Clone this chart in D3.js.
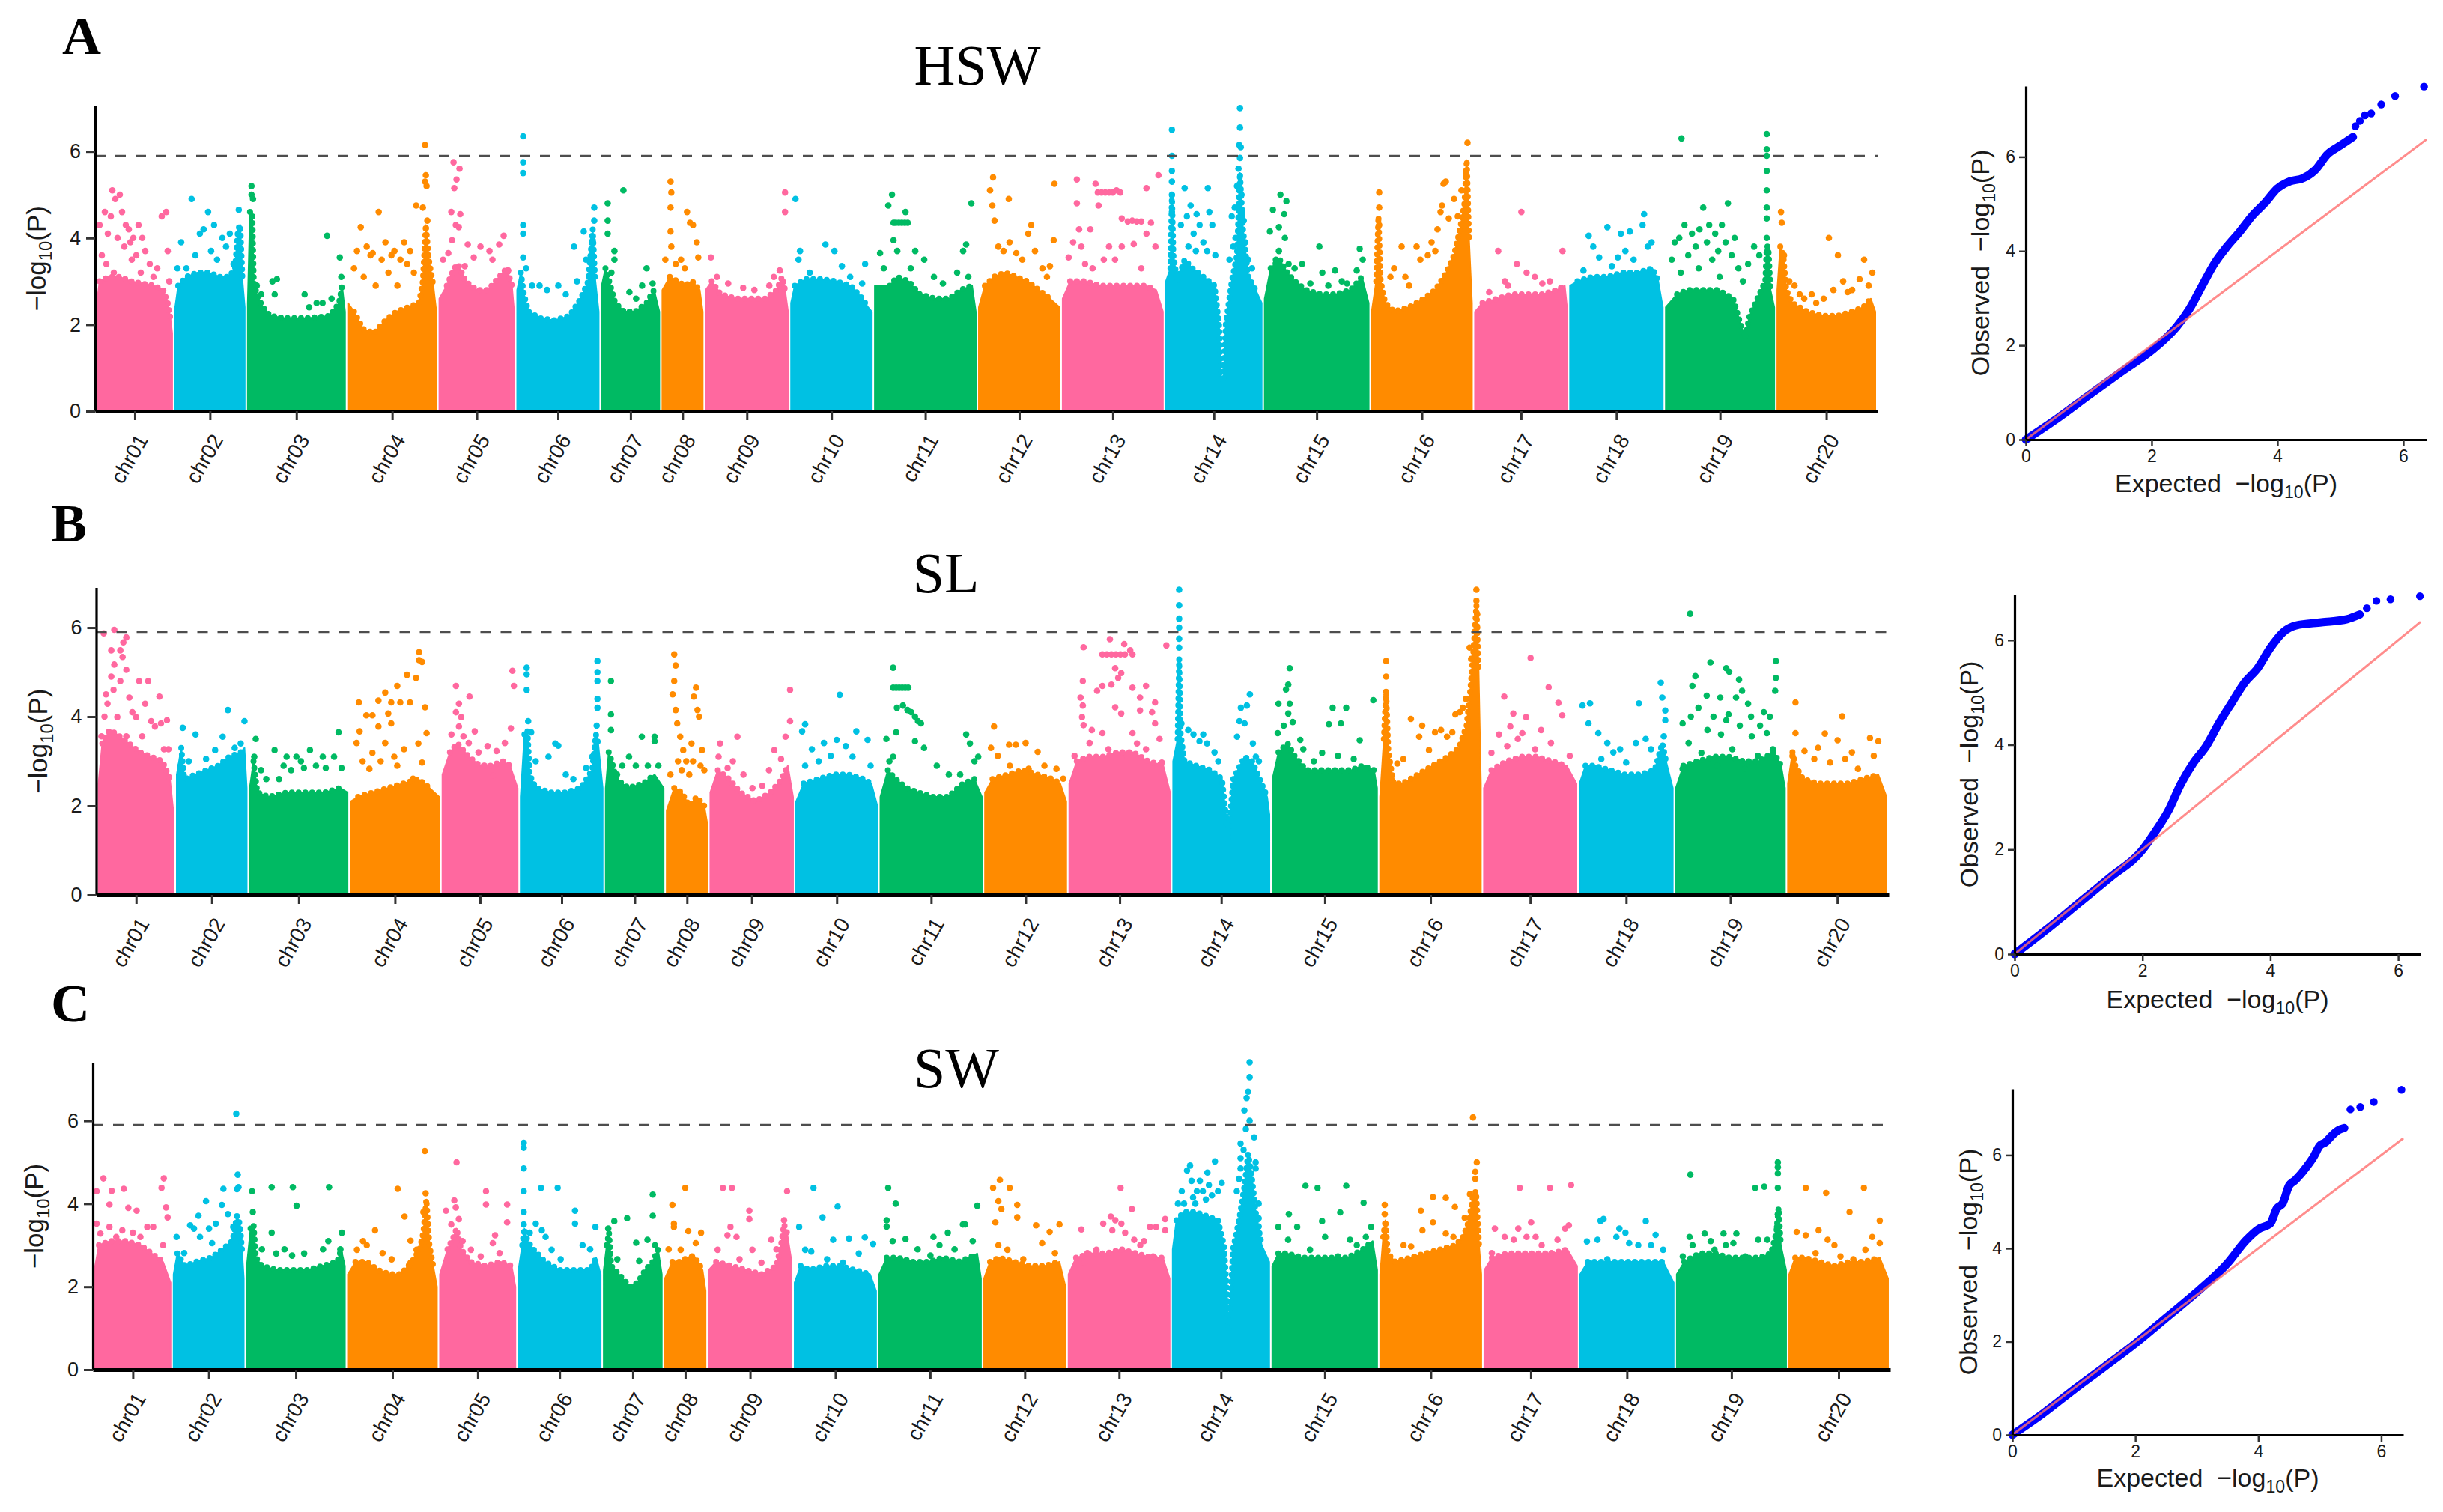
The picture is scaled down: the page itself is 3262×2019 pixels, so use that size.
<!DOCTYPE html>
<html>
<head>
<meta charset="utf-8">
<script src="https://cdn.jsdelivr.net/npm/d3@7"></script>
<style>
  body { margin: 0; background: #fff; }
</style>
</head>
<body>
<script>
// chromosomes (length in Mb) and the genome-wide line
const chroms = ["chr01","chr02","chr03","chr04","chr05","chr06","chr07","chr08","chr09","chr10",
                "chr11","chr12","chr13","chr14","chr15","chr16","chr17","chr18","chr19","chr20"];
const chromLen = [100,93,130,118,100,109,77,54,110,108,135,108,134,128,139,134,123,124,145,131];
const chromGap = 4;
const threshold = 5.9;
const yTicks = [0, 2, 4, 6];

// HSW: dense band of each chromosome [pos, -log10P] and the separate points above it
const hswBody = [
  [[0,2.6],[3,3.0],[15,3.1],[30,3.1],[45,3.0],[60,2.95],[75,2.9],[88,2.8],[94,2.5],[98,2.1],[100,1.8]],
  [[0,2.4],[4,2.9],[15,3.1],[30,3.2],[45,3.2],[60,3.1],[72,3.1],[80,3.3],[84,4.2],[87,4.3],[90,3.0],[93,2.4]],
  [[0,2.5],[3,4.6],[6,4.6],[8,3.0],[12,2.7],[20,2.4],[30,2.2],[50,2.15],[80,2.15],[110,2.2],[122,2.5],[126,2.9],[130,2.3]],
  [[0,2.5],[8,2.3],[20,1.9],[35,1.8],[50,2.1],[65,2.3],[80,2.4],[95,2.5],[100,3.0],[104,4.3],[108,3.5],[114,2.9],[118,2.3]],
  [[0,2.6],[10,2.9],[20,3.3],[25,3.4],[35,3.0],[50,2.8],[65,2.8],[80,3.1],[90,3.3],[97,2.9],[100,2.3]],
  [[0,2.8],[5,3.2],[9,2.7],[15,2.3],[30,2.15],[50,2.1],[70,2.2],[85,2.6],[95,3.0],[101,4.2],[104,3.1],[109,2.3]],
  [[0,2.9],[5,3.3],[10,3.0],[18,2.5],[30,2.3],[45,2.3],[60,2.5],[70,2.8],[77,2.3]],
  [[0,2.8],[10,3.1],[20,3.0],[30,2.9],[40,3.0],[50,2.8],[54,2.3]],
  [[0,2.8],[8,3.0],[20,2.7],[40,2.6],[60,2.6],[80,2.6],[95,2.8],[102,3.1],[106,2.8],[110,2.3]],
  [[0,2.5],[5,2.9],[20,3.05],[40,3.05],[60,3.0],[80,2.9],[95,2.6],[103,2.4],[108,2.3]],
  [[0,2.9],[20,2.9],[30,3.1],[45,3.0],[60,2.7],[80,2.6],[100,2.6],[115,2.8],[130,2.9],[135,2.3]],
  [[0,2.4],[8,2.9],[20,3.1],[35,3.2],[50,3.1],[65,3.0],[80,2.8],[95,2.6],[108,2.4]],
  [[0,2.6],[10,3.0],[30,3.0],[50,2.9],[70,2.9],[90,2.9],[110,2.9],[125,2.8],[134,2.3]],
  [[0,3.0],[6,3.3],[8,5.0],[10,3.6],[15,3.0],[25,3.5],[35,3.3],[50,3.1],[65,2.9],[71,2.0],[74,0.7],[77,0.7],[80,2.0],[88,3.0],[95,3.6],[99,5.5],[103,4.2],[110,3.1],[120,2.8],[128,2.5]],
  [[0,2.6],[8,3.3],[20,3.5],[30,3.2],[40,3.0],[55,2.8],[75,2.7],[95,2.7],[115,2.8],[130,3.1],[139,2.5]],
  [[0,2.3],[6,3.0],[9,4.5],[12,3.0],[18,2.5],[30,2.3],[50,2.4],[70,2.6],[85,2.8],[100,3.2],[110,3.6],[118,4.2],[124,4.8],[127,5.8],[130,4.0],[134,2.5]],
  [[0,2.3],[10,2.5],[30,2.6],[50,2.7],[70,2.7],[90,2.7],[110,2.8],[120,2.9],[123,2.4]],
  [[0,2.9],[10,3.0],[30,3.1],[50,3.1],[70,3.2],[90,3.2],[110,3.3],[118,3.0],[124,2.4]],
  [[0,2.4],[15,2.7],[30,2.8],[50,2.8],[70,2.8],[90,2.6],[100,2.0],[106,1.7],[112,2.2],[125,2.7],[133,3.0],[135,3.8],[137,3.8],[140,2.8],[145,2.4]],
  [[0,2.8],[4,3.8],[8,3.6],[12,2.8],[20,2.5],[40,2.3],[60,2.2],[80,2.2],[100,2.3],[115,2.4],[125,2.6],[131,2.3]]
];
const hswDots = [
  [[3,4.3],[6,3.6],[10,4.6],[14,4.1],[18,4.5],[20,5.1],[24,4.9],[27,4.0],[30,5.0],[33,4.6],[36,3.8],[38,4.3],[42,4.2],[44,3.9],[48,4.0],[52,3.6],[55,4.3],[60,4.0],[64,3.7],[70,3.4],[75,3.1],[80,3.3],[86,4.5],[92,4.6],[94,3.7],[96,3.0],[12,3.4],[22,3.2],[46,3.5],[58,3.2]],
  [[3,3.3],[8,3.9],[15,3.3],[22,4.9],[27,3.6],[33,4.1],[38,4.2],[44,4.6],[48,3.7],[52,4.3],[56,3.5],[63,4.0],[68,3.8],[73,4.1],[85,4.65],[78,3.4]],
  [[5,5.2],[5,5.0],[7,4.9],[12,2.9],[18,2.7],[33,3.0],[39,3.05],[36,2.7],[76,2.7],[82,2.4],[92,2.5],[100,2.5],[106,4.05],[112,2.6],[123,3.55],[125,3.1]],
  [[8,3.3],[12,3.7],[17,4.25],[21,3.1],[25,3.8],[30,3.6],[33,3.65],[37,2.9],[41,4.6],[45,3.5],[50,3.9],[54,3.2],[58,3.6],[62,3.7],[66,2.9],[70,3.5],[75,3.9],[79,3.4],[83,3.7],[88,3.2],[91,4.75],[100,4.7],[103,5.3],[104,5.45],[103,6.15],[106,4.4],[105,5.2]],
  [[19,5.75],[27,5.6],[23,5.35],[20,5.15],[16,4.6],[28,4.55],[22,4.3],[26,4.25],[17,3.95],[38,3.85],[55,3.8],[67,3.7],[80,3.85],[86,4.05],[12,3.65],[46,3.55],[71,3.5],[92,3.25],[34,3.35],[5,3.5]],
  [[8,6.35],[8,5.75],[8,5.5],[8,4.3],[8,4.1],[8,3.55],[12,3.3],[20,2.9],[30,2.9],[40,2.8],[55,2.9],[65,2.7],[76,3.8],[80,3.0],[89,4.15],[92,3.5],[101,3.95],[103,4.7],[103,4.4],[99,3.6]],
  [[8,4.4],[8,4.8],[8,4.1],[29,5.1],[17,3.7],[17,3.5],[37,2.75],[46,2.6],[54,2.9],[60,3.3],[68,2.95],[13,3.2]],
  [[4,3.5],[11,5.3],[12,5.05],[11,4.7],[11,4.15],[12,3.8],[18,3.4],[25,3.5],[33,4.6],[37,4.35],[41,4.3],[46,3.9],[48,3.55],[30,3.3]],
  [[7,3.55],[15,3.1],[30,2.95],[50,2.85],[65,2.8],[85,2.9],[91,3.1],[99,3.25],[106,5.05],[106,4.6]],
  [[6,4.9],[12,3.7],[10,3.5],[46,3.85],[58,3.7],[68,3.35],[79,3.1],[99,3.4],[95,2.95],[25,3.2]],
  [[7,3.65],[12,3.3],[18,4.75],[23,5.0],[25,4.35],[28,4.35],[32,4.35],[36,4.35],[40,4.35],[44,4.35],[41,4.6],[25,3.95],[30,3.7],[48,3.3],[54,3.7],[66,3.5],[79,3.1],[91,2.95],[110,3.2],[118,3.7],[122,3.85],[129,4.8],[125,3.1]],
  [[15,5.1],[19,5.4],[18,4.75],[21,4.4],[40,4.9],[26,3.8],[33,3.7],[41,3.9],[50,3.65],[58,3.5],[66,4.1],[70,4.3],[75,3.7],[85,3.3],[91,3.1],[95,3.35],[100,3.95],[101,5.25]],
  [[8,3.55],[14,3.9],[19,4.8],[19,5.35],[22,4.2],[25,3.8],[30,3.4],[37,4.2],[44,5.25],[47,5.05],[52,5.05],[57,5.05],[62,5.05],[67,5.05],[72,5.1],[77,5.05],[48,4.75],[55,3.5],[62,3.8],[70,3.5],[79,3.8],[79,4.45],[87,4.38],[93,4.4],[99,4.38],[105,4.38],[112,5.15],[112,4.1],[118,4.35],[95,3.86],[124,3.8],[128,5.45],[40,3.3],[105,3.3]],
  [[8,6.5],[8,5.9],[8,5.55],[8,5.3],[8,5.0],[8,4.6],[25,5.15],[20,4.3],[28,4.5],[33,4.75],[37,4.1],[41,4.55],[45,4.3],[50,3.9],[56,5.15],[58,4.6],[62,4.3],[66,3.6],[30,3.8],[40,3.7],[55,3.7],[85,3.5],[88,4.5],[92,4.7],[95,5.2],[97,5.6],[99,7.0],[99,6.55],[98,6.15],[100,6.1],[99,5.85],[101,5.0],[102,4.6],[104,4.4],[106,3.9],[110,3.5],[115,3.3],[93,4.0],[90,3.8]],
  [[7,4.15],[11,4.65],[15,3.5],[19,4.25],[19,3.7],[21,5.0],[26,4.55],[27,4.0],[29,4.85],[32,3.4],[40,3.3],[50,3.4],[61,2.95],[73,3.8],[77,3.2],[85,2.9],[94,3.25],[103,3.0],[110,2.95],[123,3.25],[127,3.75],[131,3.5]],
  [[10,5.05],[10,4.7],[10,4.3],[25,3.1],[30,3.3],[40,3.8],[45,3.1],[50,2.9],[60,3.8],[65,3.5],[75,3.6],[80,3.9],[85,3.7],[88,4.2],[92,4.6],[96,5.25],[99,5.3],[94,4.75],[103,4.45],[110,4.9],[115,4.5],[120,5.1],[128,6.2],[126,5.5]],
  [[19,2.75],[31,3.7],[40,3.0],[44,2.9],[56,3.4],[62,4.6],[69,3.2],[80,3.1],[90,2.95],[100,3.0],[117,3.7]],
  [[18,3.25],[25,4.05],[31,3.8],[39,3.55],[50,4.25],[56,3.35],[64,3.55],[68,4.1],[74,3.7],[80,4.15],[85,3.5],[97,4.3],[99,4.55],[104,3.8],[109,3.9]],
  [[21,6.3],[8,3.5],[12,3.9],[18,4.0],[25,4.3],[30,3.6],[35,4.1],[40,3.8],[45,4.2],[50,4.7],[55,3.9],[58,4.3],[62,3.5],[66,4.1],[70,3.7],[75,4.3],[80,3.9],[83,4.8],[88,3.6],[92,4.0],[97,3.3],[103,3.0],[110,3.4],[118,3.8],[125,3.6],[20,3.2],[44,3.3],[72,3.1],[135,6.4],[135,6.05],[135,5.9],[135,5.55],[135,5.1],[135,4.7],[135,4.45],[135,4.0],[136,3.7]],
  [[5,4.6],[6,4.35],[9,3.6],[16,3.0],[23,2.9],[30,2.7],[36,2.6],[46,2.7],[52,2.5],[62,2.6],[69,4.0],[75,2.8],[81,3.6],[88,3.0],[94,2.75],[100,2.8],[110,3.05],[116,3.5],[122,2.9],[127,3.2]]
];

// SL
const slBody = [
  [[0,2.5],[5,3.4],[15,3.7],[25,3.6],[40,3.4],[55,3.2],[70,3.1],[85,3.0],[95,2.6],[100,1.8]],
  [[0,2.7],[6,3.3],[10,2.6],[25,2.7],[40,2.8],[55,2.9],[70,3.1],[85,3.2],[90,3.3],[93,2.4]],
  [[0,2.4],[5,3.0],[10,2.3],[25,2.2],[50,2.3],[75,2.3],[100,2.3],[120,2.4],[130,2.3]],
  [[0,2.1],[10,2.2],[30,2.3],[50,2.4],[70,2.5],[90,2.6],[105,2.4],[118,2.2]],
  [[0,2.7],[10,3.2],[20,3.4],[35,3.1],[50,2.9],[65,2.9],[80,3.0],[90,2.9],[100,2.4]],
  [[0,2.2],[5,3.6],[9,3.7],[12,2.7],[20,2.4],[40,2.3],[60,2.3],[80,2.4],[95,2.8],[100,3.6],[103,3.4],[109,2.4]],
  [[0,2.4],[4,3.2],[8,3.0],[14,2.6],[30,2.4],[50,2.5],[65,2.7],[77,2.4]],
  [[0,1.9],[10,2.4],[20,2.3],[30,2.0],[40,2.2],[50,2.0],[54,1.6]],
  [[0,2.3],[10,2.8],[25,2.6],[40,2.3],[60,2.1],[80,2.3],[95,2.6],[103,2.9],[110,2.2]],
  [[0,2.1],[10,2.5],[30,2.6],[50,2.7],[70,2.7],[90,2.6],[100,2.5],[108,2.0]],
  [[0,2.2],[10,2.8],[20,2.6],[35,2.4],[50,2.3],[70,2.2],[90,2.2],[110,2.5],[125,2.6],[135,2.2]],
  [[0,2.3],[10,2.6],[30,2.7],[50,2.8],[70,2.7],[90,2.6],[100,2.5],[108,2.1]],
  [[0,2.5],[10,3.0],[25,3.1],[45,3.1],[65,3.2],[85,3.2],[105,3.0],[125,2.9],[134,2.3]],
  [[0,3.0],[6,3.5],[8,5.3],[10,3.6],[15,3.0],[30,2.9],[50,2.8],[65,2.6],[70,1.8],[73,1.2],[76,1.8],[80,2.6],[95,3.1],[105,3.0],[115,2.6],[125,2.2],[128,1.8]],
  [[0,2.6],[8,3.2],[20,3.4],[30,3.1],[45,2.8],[65,2.8],[85,2.8],[105,2.8],[120,2.9],[135,2.8],[139,2.4]],
  [[0,2.2],[5,3.5],[8,4.6],[11,3.2],[18,2.5],[30,2.5],[50,2.7],[70,2.9],[90,3.1],[105,3.3],[115,3.8],[120,4.6],[125,5.7],[128,6.5],[131,5.0],[134,2.5]],
  [[0,2.4],[10,2.8],[30,3.0],[50,3.1],[70,3.1],[90,3.0],[110,2.9],[123,2.5]],
  [[0,2.5],[8,2.9],[20,2.9],[40,2.8],[60,2.7],[80,2.7],[100,2.8],[110,3.4],[115,3.0],[124,2.4]],
  [[0,2.4],[10,2.9],[30,3.0],[50,3.1],[70,3.1],[90,3.0],[110,3.0],[130,3.2],[140,2.9],[145,2.4]],
  [[0,2.5],[6,3.2],[10,2.9],[20,2.6],[40,2.5],[60,2.5],[80,2.5],[100,2.6],[120,2.7],[131,2.2]]
];
const slDots = [
  [[21,5.95],[7,5.87],[37,5.78],[33,5.67],[17,5.49],[29,5.49],[32,5.34],[21,5.17],[17,4.9],[37,5.05],[29,4.8],[66,4.8],[54,4.8],[10,4.5],[41,4.43],[81,4.45],[62,4.29],[83,3.85],[91,3.92],[12,4.29],[25,3.99],[50,3.99],[75,3.78],[87,3.27],[93,3.27],[4,3.56],[37,3.56],[58,3.56],[45,4.1],[70,3.9],[20,4.6],[8,4.0]],
  [[8,3.75],[25,3.6],[39,3.05],[51,3.25],[61,3.55],[68,4.15],[77,3.3],[85,3.4],[90,3.9],[5,2.9],[16,3.0]],
  [[6,3.1],[8,3.5],[15,2.8],[22,2.6],[33,3.25],[39,2.6],[45,2.9],[49,3.1],[55,2.8],[62,3.1],[68,3.0],[72,2.85],[80,3.25],[88,2.9],[97,3.1],[101,2.85],[112,3.1],[118,3.65],[122,2.85]],
  [[91,5.45],[91,5.27],[95,5.23],[75,4.94],[87,4.87],[62,4.69],[46,4.54],[11,4.32],[37,4.36],[54,4.32],[66,4.32],[79,4.32],[99,4.21],[21,4.03],[29,4.03],[50,4.07],[12,3.67],[37,3.78],[54,3.85],[101,3.63],[8,3.41],[29,3.19],[46,3.41],[71,3.27],[95,2.97],[25,2.83],[62,2.9],[83,2.61],[16,3.0],[40,3.0],[58,3.1],[90,3.4]],
  [[18,4.69],[36,4.45],[22,4.29],[18,4.1],[25,3.99],[22,3.78],[43,3.67],[93,5.03],[95,4.69],[91,3.74],[28,3.56],[35,3.41],[60,3.34],[72,3.23],[83,3.41],[56,2.9],[68,2.68],[12,3.6],[48,3.2]],
  [[8,5.1],[8,4.95],[8,4.6],[10,3.9],[14,3.65],[20,3.0],[37,3.1],[46,3.4],[50,3.35],[60,2.7],[70,2.6],[87,2.85],[95,3.1],[101,3.8],[102,4.2],[102,4.4],[102,4.8],[102,5.0],[102,5.25]],
  [[7,4.8],[7,4.05],[7,3.7],[15,2.7],[22,2.9],[31,3.1],[40,2.9],[48,3.55],[56,2.9],[65,3.55],[65,3.45],[70,2.9]],
  [[8,4.5],[10,5.4],[12,5.15],[10,4.8],[12,4.15],[14,3.85],[18,3.55],[22,3.25],[26,3.0],[30,2.7],[33,3.4],[36,4.45],[39,4.65],[41,4.15],[43,4.0],[47,3.25],[50,2.8],[5,2.7],[15,3.0],[20,2.8],[35,3.0],[45,2.9]],
  [[11,3.1],[13,3.4],[23,2.85],[30,3.0],[36,3.55],[44,2.7],[56,2.4],[69,2.45],[78,2.8],[85,3.25],[94,3.05],[100,3.55],[106,3.9],[106,4.6]],
  [[12,3.83],[8,3.67],[58,4.49],[80,3.67],[54,3.48],[21,3.27],[37,3.41],[66,3.34],[95,3.48],[46,3.12],[99,2.9],[12,2.9],[30,3.0],[75,3.1]],
  [[8,3.5],[12,3.0],[17,5.1],[17,4.65],[21,4.65],[25,4.65],[29,4.65],[33,4.65],[37,4.65],[22,4.2],[30,4.25],[36,4.15],[41,4.1],[46,4.0],[50,3.9],[54,3.85],[21,3.65],[46,3.45],[58,3.3],[17,3.1],[75,2.9],[91,2.7],[106,2.7],[114,3.6],[119,3.4],[125,3.0],[130,3.1]],
  [[12,3.78],[8,3.3],[32,3.37],[41,3.37],[54,3.41],[70,3.21],[17,3.12],[33,2.9],[58,2.83],[79,2.9],[95,2.83],[104,2.61],[46,2.68]],
  [[54,5.74],[73,5.63],[19,5.56],[81,5.49],[44,5.4],[50,5.4],[56,5.4],[62,5.4],[68,5.4],[74,5.4],[84,5.4],[129,5.6],[61,5.09],[69,4.98],[65,4.87],[44,4.69],[56,4.72],[84,4.65],[102,4.69],[18,4.8],[37,4.58],[15,4.43],[18,4.25],[94,4.43],[114,4.32],[110,4.1],[61,4.21],[17,3.99],[69,4.07],[94,4.14],[19,3.81],[44,3.63],[84,3.63],[114,3.85],[7,3.12],[27,3.41],[52,3.27],[77,3.12],[102,3.27],[123,2.97],[30,3.7],[90,3.4],[120,3.5]],
  [[8,6.85],[8,6.5],[8,6.2],[8,6.0],[8,5.75],[8,5.55],[11,3.85],[20,3.7],[27,3.6],[35,3.45],[40,3.6],[45,3.4],[55,3.2],[60,3.0],[85,3.55],[88,3.9],[90,4.2],[95,3.85],[98,4.25],[102,4.5],[106,3.4],[110,3.1],[114,3.0]],
  [[23,5.09],[21,4.72],[18,4.61],[8,4.29],[23,4.29],[21,4.07],[7,3.63],[27,3.88],[37,3.48],[80,4.2],[98,4.2],[75,3.83],[91,3.85],[116,3.47],[134,4.37],[41,3.27],[66,3.19],[87,3.12],[108,3.05],[124,2.83],[15,3.8],[55,3.0]],
  [[8,5.25],[8,4.9],[15,2.6],[23,2.95],[31,3.05],[41,3.95],[52,3.55],[56,3.8],[65,3.25],[73,3.65],[81,3.7],[89,3.55],[96,3.65],[100,4.05],[106,4.1],[110,4.2],[114,4.4],[119,5.55],[121,5.3],[128,6.85],[128,6.6],[129,6.3],[129,6.0]],
  [[62,5.32],[86,4.66],[27,4.45],[39,4.07],[56,3.99],[99,4.31],[104,4.03],[35,3.78],[51,3.63],[76,3.7],[10,3.19],[31,3.34],[68,3.27],[89,3.41],[114,3.12],[45,3.5],[20,3.6]],
  [[4,4.25],[14,4.3],[79,4.3],[108,4.76],[110,4.43],[114,4.14],[114,3.92],[112,3.56],[12,3.85],[25,3.63],[37,3.41],[54,3.27],[75,3.41],[95,3.27],[62,2.97],[29,3.05],[45,3.2],[88,3.5]],
  [[19,6.31],[46,5.22],[67,5.09],[71,5.01],[26,4.91],[22,4.69],[84,4.83],[88,4.58],[133,5.25],[133,4.87],[132,4.58],[41,4.47],[59,4.43],[80,4.43],[96,4.29],[117,4.1],[20,4.0],[50,4.0],[70,4.05],[100,4.0],[125,4.0],[9,3.85],[42,3.7],[67,3.92],[101,3.56],[121,3.63],[17,3.41],[34,3.19],[75,3.27],[109,3.12],[129,3.27],[9,2.83],[55,2.9],[92,2.83],[30,4.2],[60,3.6],[85,3.8],[112,3.8]],
  [[10,4.32],[72,4.01],[10,3.63],[49,3.62],[66,3.47],[109,3.52],[120,3.45],[22,3.23],[35,3.05],[56,2.97],[76,3.05],[93,2.83],[114,3.12],[6,3.12],[85,3.2],[40,3.3]]
];

// SW
const swBody = [
  [[0,2.5],[5,3.0],[20,3.1],[40,3.1],[60,3.0],[75,2.8],[90,2.6],[100,2.1]],
  [[0,2.3],[5,2.8],[15,2.5],[30,2.6],[50,2.7],[65,2.9],[78,3.1],[84,3.7],[88,3.5],[91,2.8],[93,2.2]],
  [[0,2.5],[5,3.4],[9,3.5],[12,2.7],[20,2.5],[40,2.4],[60,2.4],[80,2.4],[100,2.5],[120,2.6],[125,2.9],[130,2.5]],
  [[0,2.3],[10,2.6],[25,2.6],[40,2.4],[55,2.3],[70,2.3],[85,2.6],[95,2.9],[100,3.3],[104,4.1],[108,3.0],[114,2.4],[118,2.0]],
  [[0,2.3],[10,2.9],[18,3.2],[22,3.4],[28,2.9],[40,2.6],[60,2.5],[80,2.6],[95,2.5],[100,2.0]],
  [[0,2.4],[5,3.0],[8,3.4],[12,3.1],[20,2.9],[35,2.6],[55,2.4],[75,2.4],[95,2.4],[103,2.7],[109,2.3]],
  [[0,2.4],[4,3.0],[7,3.3],[10,2.5],[20,2.3],[35,2.0],[45,2.1],[55,2.4],[65,2.6],[72,2.9],[77,2.3]],
  [[0,2.2],[10,2.6],[20,2.6],[30,2.7],[40,2.7],[50,2.4],[54,1.9]],
  [[0,2.4],[10,2.6],[30,2.5],[50,2.4],[70,2.3],[90,2.5],[96,3.0],[100,3.5],[104,3.3],[110,2.6]],
  [[0,2.1],[8,2.5],[20,2.4],[40,2.5],[60,2.5],[80,2.4],[100,2.3],[108,1.9]],
  [[0,2.3],[10,2.7],[25,2.7],[45,2.6],[65,2.6],[85,2.7],[105,2.6],[120,2.7],[130,2.8],[135,2.2]],
  [[0,2.2],[8,2.6],[20,2.7],[40,2.6],[60,2.5],[80,2.5],[100,2.6],[108,2.0]],
  [[0,2.3],[10,2.7],[30,2.8],[50,2.8],[70,2.9],[90,2.8],[110,2.7],[125,2.7],[134,2.2]],
  [[0,2.9],[5,3.6],[15,3.8],[30,3.8],[45,3.7],[60,3.6],[68,3.0],[72,1.8],[74,1.0],[77,1.8],[80,2.9],[88,3.6],[95,4.4],[100,5.2],[104,4.8],[110,3.8],[118,3.0],[128,2.6]],
  [[0,2.5],[8,2.8],[20,2.8],[40,2.7],[60,2.7],[80,2.7],[100,2.7],[120,2.9],[133,3.1],[139,2.4]],
  [[0,2.3],[4,3.2],[7,3.6],[10,2.8],[20,2.6],[40,2.7],[60,2.8],[80,2.9],[100,3.0],[110,3.2],[118,3.6],[123,4.2],[127,4.3],[131,3.0],[134,2.3]],
  [[0,2.4],[10,2.7],[30,2.8],[50,2.8],[70,2.8],[90,2.8],[110,2.9],[123,2.5]],
  [[0,2.3],[10,2.6],[30,2.6],[50,2.6],[70,2.6],[90,2.6],[110,2.6],[124,2.1]],
  [[0,2.3],[10,2.6],[30,2.8],[50,2.8],[70,2.7],[90,2.7],[110,2.7],[125,2.8],[132,3.3],[135,3.9],[138,3.0],[145,2.4]],
  [[0,2.3],[8,2.7],[20,2.7],[40,2.6],[60,2.5],[80,2.6],[100,2.6],[120,2.7],[131,2.2]]
];
const swDots = [
  [[11,4.61],[2,4.3],[22,4.31],[38,4.36],[19,3.98],[44,3.9],[55,3.83],[91,4.61],[88,4.38],[94,3.91],[96,3.67],[2,3.52],[19,3.44],[36,3.36],[69,3.44],[77,3.44],[7,3.28],[90,3.0],[28,3.2],[50,3.3],[60,3.2]],
  [[83,6.17],[85,4.7],[86,4.4],[84,4.35],[4,3.2],[22,3.48],[33,3.71],[43,4.06],[56,3.52],[64,3.97],[66,4.36],[72,3.75],[79,3.44],[51,3.05],[14,2.81],[35,3.2],[27,3.4],[47,3.4]],
  [[7,4.3],[8,3.8],[33,4.4],[33,3.3],[39,2.8],[60,2.75],[61,4.4],[66,3.95],[76,2.8],[101,2.9],[108,3.1],[109,4.4],[124,2.9],[126,3.3],[20,2.9],[50,2.9]],
  [[102,5.27],[66,4.36],[75,3.69],[83,3.11],[36,3.36],[12,2.89],[25,3.0],[46,2.81],[58,2.66],[83,2.58],[91,2.89],[100,3.8],[103,4.25],[20,3.1]],
  [[22,5.0],[19,4.08],[21,3.91],[25,3.63],[8,3.83],[61,4.3],[61,3.98],[89,3.98],[89,3.55],[73,3.24],[70,3.05],[41,2.89],[54,2.73],[79,2.81],[15,3.5],[30,3.1]],
  [[7,5.47],[7,5.35],[7,4.85],[7,4.3],[7,3.8],[7,3.5],[30,4.38],[52,4.38],[75,3.83],[75,3.52],[102,3.44],[85,3.0],[36,3.2],[23,3.52],[31,3.36],[44,2.89],[56,2.66],[95,2.9],[15,3.3]],
  [[14,3.58],[31,3.65],[65,4.22],[65,3.71],[43,3.06],[58,3.13],[68,3.0],[18,2.66],[47,2.62],[6,3.4]],
  [[27,4.38],[10,3.97],[12,3.52],[12,3.44],[31,3.34],[48,3.3],[41,3.05],[21,2.89],[36,2.73],[5,2.9]],
  [[19,4.38],[31,4.38],[54,3.83],[54,3.63],[104,4.3],[29,3.44],[25,3.24],[37,3.2],[58,2.89],[83,3.13],[12,2.89],[41,2.66],[70,2.58],[100,3.6],[90,2.9]],
  [[6,3.44],[25,4.38],[57,3.93],[37,3.67],[14,2.89],[22,2.85],[51,3.13],[72,3.16],[93,3.19],[104,3.03],[43,2.66],[64,2.58],[85,2.8]],
  [[10,3.45],[10,3.6],[12,4.38],[18,3.1],[22,4.0],[35,3.15],[51,2.9],[68,2.75],[72,3.2],[91,3.3],[111,3.5],[114,3.5],[124,3.1],[130,3.95],[100,2.9],[80,3.0]],
  [[21,4.57],[12,4.38],[34,4.38],[19,4.06],[23,3.87],[44,3.97],[15,3.55],[44,3.67],[69,3.48],[100,3.5],[87,3.32],[19,3.0],[31,2.89],[77,3.05],[94,2.81],[52,2.66]],
  [[69,4.38],[84,3.87],[56,3.69],[70,3.52],[46,3.52],[17,3.38],[108,3.44],[116,3.44],[128,3.63],[128,3.36],[58,3.36],[87,3.13],[95,3.0],[25,2.81],[37,2.89],[112,2.73],[21,2.58],[62,3.6],[75,3.3],[100,3.1]],
  [[7,4.0],[12,4.3],[19,4.8],[23,4.92],[25,4.55],[27,4.15],[32,4.3],[36,4.55],[40,4.3],[46,4.75],[48,4.45],[52,4.2],[56,5.02],[60,4.3],[65,4.5],[85,4.3],[88,4.6],[90,4.85],[90,5.1],[90,5.45],[94,5.3],[95,6.25],[98,6.55],[102,6.0],[102,7.05],[102,7.41],[104,4.4],[108,5.6],[110,5.0],[110,4.85],[114,4.0],[114,3.65],[114,3.45],[100,6.7],[97,5.8],[15,4.0],[44,4.1],[30,4.0]],
  [[44,4.43],[60,4.38],[98,4.43],[22,3.75],[8,3.44],[33,3.44],[66,3.58],[90,3.79],[121,4.02],[131,3.44],[21,3.13],[50,2.89],[70,3.2],[87,2.73],[103,3.13],[124,3.2],[112,3.0]],
  [[123,6.08],[128,5.0],[126,4.77],[119,4.23],[70,4.16],[87,4.14],[99,3.92],[112,3.66],[54,3.83],[70,3.55],[87,3.28],[41,2.97],[31,3.0],[56,3.36],[97,3.2],[21,2.58],[6,3.97],[6,3.75],[126,4.6]],
  [[47,4.38],[87,4.38],[115,4.45],[62,3.55],[112,3.48],[107,3.4],[14,3.4],[27,3.2],[39,3.13],[56,3.2],[68,3.2],[76,3.0],[97,3.13],[10,2.81],[89,2.81],[45,3.4]],
  [[31,3.63],[27,3.59],[87,3.58],[52,3.4],[9,3.09],[23,3.13],[48,3.2],[65,3.05],[77,3.0],[94,3.0],[110,2.89],[36,2.66],[11,2.58],[60,3.3],[100,3.25]],
  [[18,4.7],[104,4.38],[116,4.41],[134,5.0],[134,4.88],[134,4.73],[134,4.38],[134,3.75],[133,3.44],[17,3.2],[37,3.28],[62,3.28],[79,3.28],[21,3.0],[50,2.89],[75,3.05],[108,3.13],[120,3.13],[8,2.73],[91,2.73],[45,3.1],[65,3.0]],
  [[22,4.38],[49,4.26],[99,4.38],[80,3.8],[120,3.59],[10,3.32],[22,3.24],[39,3.36],[51,3.13],[120,3.05],[101,2.89],[68,2.73],[85,2.66],[35,2.81],[60,3.0],[110,3.2]]
];

// QQ plots: [expected, observed] along the dense curve, then the separate top points
const hswQQ = [[0,0],[0.5,0.45],[1,0.94],[1.5,1.42],[2,1.89],[2.2,2.12],[2.4,2.4],[2.6,2.77],[2.8,3.26],[3.0,3.74],[3.2,4.1],[3.4,4.41],[3.6,4.75],[3.8,5.02],[4.0,5.33],[4.2,5.48],[4.4,5.54],[4.6,5.72],[4.8,6.06],[5.0,6.24],[5.2,6.42]];
const hswQQTail = [[5.24,6.65],[5.31,6.76],[5.39,6.88],[5.49,6.92],[5.65,7.11],[5.87,7.29],[6.33,7.49]];
const slQQ = [[0,0],[0.5,0.47],[1,0.97],[1.5,1.47],[2,1.99],[2.2,2.34],[2.4,2.73],[2.6,3.25],[2.8,3.66],[3.0,3.98],[3.2,4.42],[3.4,4.81],[3.6,5.19],[3.8,5.46],[4.0,5.85],[4.2,6.15],[4.4,6.28],[4.8,6.34],[5.2,6.4],[5.4,6.49]];
const slQQTail = [[5.51,6.61],[5.66,6.75],[5.88,6.78],[6.34,6.84]];
const swQQ = [[0,0],[0.5,0.46],[1,0.97],[1.5,1.46],[2,1.96],[2.5,2.51],[3,3.06],[3.5,3.68],[3.8,4.17],[4.0,4.41],[4.2,4.54],[4.3,4.85],[4.4,4.97],[4.5,5.34],[4.6,5.46],[4.8,5.77],[4.9,5.96],[5.0,6.2],[5.1,6.28],[5.2,6.42],[5.3,6.53],[5.4,6.58]];
const swQQTail = [[5.5,6.98],[5.66,7.03],[5.88,7.14],[6.33,7.4]];

const palette = ["#FF689F", "#00C1E3", "#00BA63", "#FF8B00"];
const SANS = "'Liberation Sans', Arial, sans-serif";
const SERIF = "'Liberation Serif', 'Times New Roman', serif";

const W = 3262, H = 2019;
const svg = d3.select("body").append("svg").attr("width", W).attr("height", H)
  .style("font-family", SANS);
svg.append("rect").attr("width", W).attr("height", H).attr("fill", "#fff");

const offsets = [];
let acc = 0;
chromLen.forEach((l) => { offsets.push(acc); acc += l + chromGap; });
const genomeLen = acc - chromGap;

function addLog10(sel, prefix, size) {
  sel.append("tspan").text(prefix + "\u2212log");
  sel.append("tspan").attr("font-size", size * 0.68).attr("dy", size * 0.24).text("10");
  sel.append("tspan").attr("dy", -size * 0.24).text("(P)");
}

function styleTicks(axis, size) {
  axis.selectAll(".tick text").attr("font-size", size).attr("fill", "#1a1a1a")
    .style("font-family", SANS);
}

function manhattan(cfg, body, dots) {
  const x = d3.scaleLinear().domain([-3, genomeLen + 3]).range([cfg.left, cfg.right]);
  const y = d3.scaleLinear().domain([0, cfg.yMax]).range([cfg.bottom, cfg.top]);
  const g = svg.append("g");

  const area = d3.area().y0(y(0));
  const edge = d3.line();
  body.forEach((pts, i) => {
    area.x((d) => x(offsets[i] + d[0])).y1((d) => y(d[1]));
    edge.x((d) => x(offsets[i] + d[0])).y((d) => y(d[1]));
    g.append("path").attr("d", area(pts))
      .attr("fill", palette[i % 4]).attr("stroke", palette[i % 4])
      .attr("stroke-width", 2).attr("stroke-linejoin", "round");
    // speckled rim so the dense band reads as a mass of points
    g.append("path").attr("d", edge(pts.slice(1, -1)))
      .attr("fill", "none").attr("stroke", palette[i % 4])
      .attr("stroke-width", 8).attr("stroke-linecap", "round")
      .attr("stroke-dasharray", "0,9");
  });
  dots.forEach((pts, i) => {
    g.append("g").selectAll("circle").data(pts).enter().append("circle")
      .attr("cx", (d) => x(offsets[i] + d[0]))
      .attr("cy", (d) => y(d[1]))
      .attr("r", 4.3)
      .attr("fill", palette[i % 4]);
  });

  g.append("line")
    .attr("x1", cfg.left).attr("x2", cfg.right)
    .attr("y1", y(threshold)).attr("y2", y(threshold))
    .attr("stroke", "#4d4d4d").attr("stroke-width", 2.6).attr("stroke-dasharray", "14,13");

  const yAxis = g.append("g").attr("transform", `translate(${cfg.left},0)`)
    .call(d3.axisLeft(y).tickValues(yTicks).tickFormat(d3.format("d"))
      .tickSize(12).tickSizeOuter(0).tickPadding(7));
  yAxis.select(".domain").attr("stroke", "#000").attr("stroke-width", 3.2);
  yAxis.selectAll(".tick line").attr("stroke", "#333").attr("stroke-width", 3);
  styleTicks(yAxis, 27);

  const centers = chroms.map((c, i) => offsets[i] + chromLen[i] / 2);
  const xAxis = g.append("g").attr("transform", `translate(0,${cfg.bottom})`)
    .call(d3.axisBottom(x).tickValues(centers).tickFormat((d, i) => chroms[i])
      .tickSize(12).tickSizeOuter(0));
  xAxis.select(".domain").attr("stroke", "#000").attr("stroke-width", 5);
  xAxis.selectAll(".tick line").attr("stroke", "#333").attr("stroke-width", 3);
  styleTicks(xAxis, 28);
  xAxis.selectAll(".tick text")
    .attr("x", 0).attr("y", 0).attr("dy", 0)
    .attr("transform", "translate(18,38) rotate(-60)")
    .attr("text-anchor", "end");

  const yt = g.append("text")
    .attr("transform", `translate(${cfg.left - 66},${(cfg.top + cfg.bottom) / 2}) rotate(-90)`)
    .attr("text-anchor", "middle").attr("font-size", 35).attr("fill", "#1a1a1a");
  addLog10(yt, "", 35);

  g.append("text").attr("x", cfg.titleX).attr("y", cfg.titleY)
    .attr("text-anchor", "middle").attr("font-size", 76)
    .style("font-family", SERIF)
    .text(cfg.title);
  g.append("text").attr("x", cfg.letterX).attr("y", cfg.letterY)
    .attr("font-size", 72).attr("font-weight", "bold")
    .style("font-family", SERIF)
    .text(cfg.letter);
}

function qqPlot(cfg, curve, tail) {
  const x = d3.scaleLinear().domain([0, cfg.xMax]).range([cfg.left, cfg.right]);
  const y = d3.scaleLinear().domain([0, cfg.yMax]).range([cfg.bottom, cfg.top]);
  const g = svg.append("g");

  g.append("path").datum(curve)
    .attr("d", d3.line().x((d) => x(d[0])).y((d) => y(d[1])).curve(d3.curveMonotoneX))
    .attr("fill", "none").attr("stroke", "#0000FF").attr("stroke-width", 11)
    .attr("stroke-linecap", "round").attr("stroke-linejoin", "round");
  g.append("g").selectAll("circle").data(tail).enter().append("circle")
    .attr("cx", (d) => x(d[0])).attr("cy", (d) => y(d[1])).attr("r", 5.2).attr("fill", "#0000FF");

  g.append("path").datum([[0, 0], [cfg.xMax, cfg.xMax]])
    .attr("d", d3.line().x((d) => x(d[0])).y((d) => y(d[1])))
    .attr("stroke", "#FF6F6F").attr("stroke-width", 3).attr("stroke-opacity", 0.8).attr("fill", "none");

  const yAxis = g.append("g").attr("transform", `translate(${cfg.left},0)`)
    .call(d3.axisLeft(y).tickValues(yTicks).tickFormat(d3.format("d"))
      .tickSize(9).tickSizeOuter(0).tickPadding(5));
  const xAxis = g.append("g").attr("transform", `translate(0,${cfg.bottom})`)
    .call(d3.axisBottom(x).tickValues(yTicks).tickFormat(d3.format("d"))
      .tickSize(9).tickSizeOuter(0).tickPadding(5));
  [xAxis, yAxis].forEach((a) => {
    a.select(".domain").attr("stroke", "#000").attr("stroke-width", 3.2);
    a.selectAll(".tick line").attr("stroke", "#333").attr("stroke-width", 2.5);
    styleTicks(a, 23);
  });

  const xt = g.append("text").attr("x", (cfg.left + cfg.right) / 2).attr("y", cfg.xTitleY)
    .attr("text-anchor", "middle").attr("font-size", 34).attr("fill", "#1a1a1a");
  addLog10(xt, "Expected\u00A0\u00A0", 34);
  const yt = g.append("text")
    .attr("transform", `translate(${cfg.yTitleX},${(cfg.top + cfg.bottom) / 2}) rotate(-90)`)
    .attr("text-anchor", "middle").attr("font-size", 34).attr("fill", "#1a1a1a");
  addLog10(yt, "Observed\u00A0\u00A0", 34);
}

manhattan({ left: 127, right: 2507, bottom: 549, top: 141.5, yMax: 7.05,
  title: "HSW", titleX: 1305, titleY: 113, letter: "A", letterX: 83, letterY: 72 }, hswBody, hswDots);
manhattan({ left: 128.5, right: 2522, bottom: 1195, top: 784.5, yMax: 6.9,
  title: "SL", titleX: 1263, titleY: 791, letter: "B", letterX: 68, letterY: 723 }, slBody, slDots);
manhattan({ left: 124, right: 2524, bottom: 1829, top: 1419, yMax: 7.4,
  title: "SW", titleX: 1277, titleY: 1452, letter: "C", letterX: 68, letterY: 1364 }, swBody, swDots);

qqPlot({ left: 2705, right: 3240, bottom: 587, top: 115, xMax: 6.37, yMax: 7.5,
  yTitleX: 2656, xTitleY: 657 }, hswQQ, hswQQTail);
qqPlot({ left: 2690, right: 3232, bottom: 1274, top: 794, xMax: 6.35, yMax: 6.87,
  yTitleX: 2641, xTitleY: 1346 }, slQQ, slQQTail);
qqPlot({ left: 2687, right: 3209, bottom: 1916, top: 1454, xMax: 6.36, yMax: 7.42,
  yTitleX: 2640, xTitleY: 1985 }, swQQ, swQQTail);
</script>
</body>
</html>
